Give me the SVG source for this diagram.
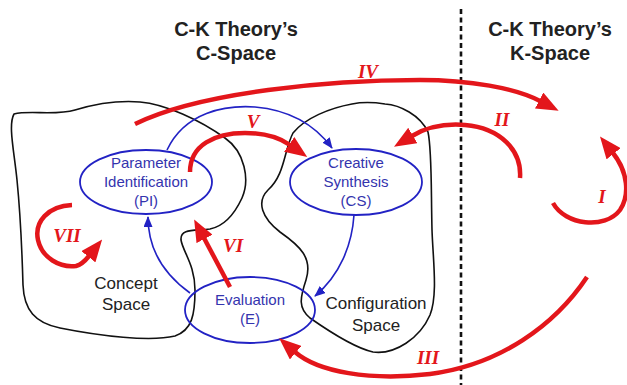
<svg xmlns="http://www.w3.org/2000/svg" width="627" height="385" viewBox="0 0 627 385">
  <style>
    .title { font-family: "Liberation Sans", Arial, sans-serif; font-weight: bold; font-size: 20px; fill: #222; text-anchor: middle; }
    .space { fill: none; stroke: #111; stroke-width: 1.6; stroke-linejoin: round; }
    .space-label { font-family: "Liberation Sans", Arial, sans-serif; font-size: 17px; fill: #222; text-anchor: middle; }
    .node { fill: none; stroke: #2222c4; stroke-width: 1.8; }
    .node-label { font-family: "Liberation Sans", Arial, sans-serif; font-size: 15px; fill: #3434ae; text-anchor: middle; }
    .flow { fill: none; stroke: #2222c4; stroke-width: 1.6; }
    .move { fill: none; stroke: #e3161b; stroke-width: 4.5; stroke-linecap: butt; }
    .numeral { font-family: "Liberation Serif", "Times New Roman", serif; font-weight: bold; font-style: italic; font-size: 19px; fill: #e3161b; text-anchor: middle; }
    .divider { stroke: #111; stroke-width: 2.6; stroke-dasharray: 5 3.5; }
  </style>
  <defs>
    <marker id="redHead" markerUnits="userSpaceOnUse" markerWidth="22" markerHeight="18" viewBox="0 0 22 18" refX="1" refY="9" orient="auto">
      <path d="M0,0 L22,9 L0,18 z" fill="#e3161b"/>
    </marker>
    <marker id="blueHead" markerUnits="userSpaceOnUse" markerWidth="11" markerHeight="9" viewBox="0 0 11 9" refX="10" refY="4.5" orient="auto">
      <path d="M0,0 L11,4.5 L0,9 z" fill="#2222c4"/>
    </marker>
  </defs>

  <rect width="627" height="385" fill="#ffffff"/>

  <!-- headings -->
  <g id="c-space-title">
    <text class="title" x="236" y="36">C-K Theory’s</text>
    <text class="title" x="236" y="60">C-Space</text>
  </g>
  <g id="k-space-title">
    <text class="title" x="550" y="36">C-K Theory’s</text>
    <text class="title" x="550" y="60">K-Space</text>
  </g>

  <!-- C / K boundary -->
  <line class="divider" x1="461" y1="9" x2="461" y2="385"/>

  <!-- concept space -->
  <g id="concept-space">
    <path class="space" d="M14,114 C30,110 55,116 75,110 C95,104 115,100 140,102 C165,104 200,120 225,138 C245,152 250,180 242,198 C235,213 225,226 210,229 C195,231 180,228 181,240 C183,252 195,265 195,290 C195,315 192,330 175,336 C150,342 100,336 60,328 C35,323 24,310 23,285 C22,250 20,210 17,180 C14,150 8,125 14,114 Z"/>
    <text class="space-label" x="126" y="289">Concept</text>
    <text class="space-label" x="126" y="310">Space</text>
  </g>

  <!-- configuration space -->
  <g id="configuration-space">
    <path class="space" d="M352,104 C330,108 305,118 293,133 C284,150 285,175 268,190 C256,202 262,218 280,232 C300,246 313,258 306,280 C300,298 298,308 310,318 C330,332 355,348 373,352 C395,355 420,338 430,315 C438,295 433,260 432,230 C431,190 432,150 428,132 C420,115 400,105 385,104 C372,102 362,102 352,104 Z"/>
    <text class="space-label" x="376" y="309">Configuration</text>
    <text class="space-label" x="376" y="331">Space</text>
  </g>

  <!-- design activities -->
  <g id="parameter-identification">
    <ellipse class="node" cx="146" cy="182" rx="66" ry="32"/>
    <text class="node-label" x="146" y="168">Parameter</text>
    <text class="node-label" x="146" y="187">Identification</text>
    <text class="node-label" x="146" y="206">(PI)</text>
  </g>
  <g id="creative-synthesis">
    <ellipse class="node" cx="356" cy="182" rx="66" ry="33"/>
    <text class="node-label" x="356" y="168">Creative</text>
    <text class="node-label" x="356" y="187">Synthesis</text>
    <text class="node-label" x="356" y="206">(CS)</text>
  </g>
  <g id="evaluation">
    <ellipse class="node" cx="250" cy="310" rx="65" ry="33"/>
    <text class="node-label" x="250" y="305">Evaluation</text>
    <text class="node-label" x="250" y="324">(E)</text>
  </g>

  <!-- connectors -->
  <g id="connectors">
    <!-- activity cycle -->
    <path class="flow" marker-end="url(#blueHead)" d="M167,150 C185,112 225,105 255,107 C290,110 315,125 332,148"/>
    <path class="flow" marker-end="url(#blueHead)" d="M354,215 C352,245 340,275 315,296"/>
    <path class="flow" marker-end="url(#blueHead)" d="M190,293 C165,275 148,250 148,217"/>

    <!-- C-K operators -->
    <path class="move" marker-end="url(#redHead)" d="M135,124 C200,92 330,80 420,80 C470,80 515,88 540,101"/>
    <path class="move" marker-end="url(#redHead)" d="M520,178 C522,150 500,128 465,125 C440,123 422,130 412,136"/>
    <path class="move" marker-end="url(#redHead)" d="M553,203 C565,225 605,230 620,210 C630,195 628,172 613,153"/>
    <path class="move" marker-end="url(#redHead)" d="M587,277 C555,325 500,365 430,374 C370,381 318,372 295,352"/>
    <path class="move" marker-end="url(#redHead)" d="M190,172 C190,145 215,133 245,133 C265,133 280,138 290,145"/>
    <path class="move" marker-end="url(#redHead)" d="M230,287 L204,238"/>
    <path class="move" marker-end="url(#redHead)" d="M72,205 C48,206 34,222 38,240 C42,258 60,268 76,266 C80,265 85,261 89,256"/>

    <text class="numeral" x="368" y="78">IV</text>
    <text class="numeral" x="502" y="126">II</text>
    <text class="numeral" x="602" y="203">I</text>
    <text class="numeral" x="428" y="364">III</text>
    <text class="numeral" x="253" y="128">V</text>
    <text class="numeral" x="233" y="252">VI</text>
    <text class="numeral" x="67" y="242">VII</text>
  </g>
</svg>
